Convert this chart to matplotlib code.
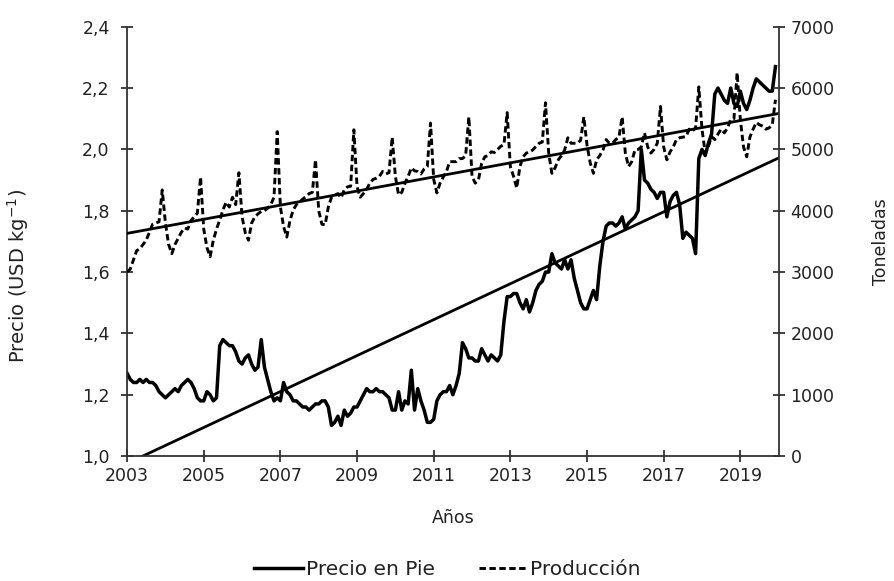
"""Precio en pie vs producción mensual, 2003-2019, con tendencias lineales."""
import numpy as np
import matplotlib
matplotlib.use("Agg")
import matplotlib.pyplot as plt
from matplotlib.ticker import FuncFormatter

# monthly values, Jan..Dec for each year
years = list(range(2003, 2020))

precio = [
    [1.27, 1.25, 1.24, 1.24, 1.25, 1.24, 1.25, 1.24, 1.24, 1.23, 1.21, 1.20],  # 2003
    [1.19, 1.20, 1.21, 1.22, 1.21, 1.23, 1.24, 1.25, 1.24, 1.22, 1.19, 1.18],  # 2004
    [1.18, 1.21, 1.20, 1.18, 1.19, 1.36, 1.38, 1.37, 1.36, 1.36, 1.34, 1.31],  # 2005
    [1.30, 1.32, 1.33, 1.30, 1.28, 1.29, 1.38, 1.29, 1.25, 1.21, 1.18, 1.19],  # 2006
    [1.18, 1.24, 1.21, 1.20, 1.18, 1.18, 1.17, 1.16, 1.16, 1.15, 1.16, 1.17],  # 2007
    [1.17, 1.18, 1.18, 1.16, 1.10, 1.11, 1.13, 1.10, 1.15, 1.13, 1.14, 1.16],  # 2008
    [1.16, 1.18, 1.20, 1.22, 1.21, 1.21, 1.22, 1.21, 1.21, 1.20, 1.19, 1.15],  # 2009
    [1.15, 1.21, 1.15, 1.18, 1.17, 1.28, 1.15, 1.22, 1.18, 1.15, 1.11, 1.11],  # 2010
    [1.12, 1.18, 1.20, 1.21, 1.21, 1.23, 1.20, 1.23, 1.27, 1.37, 1.35, 1.32],  # 2011
    [1.32, 1.31, 1.31, 1.35, 1.33, 1.31, 1.33, 1.32, 1.31, 1.33, 1.44, 1.52],  # 2012
    [1.52, 1.53, 1.53, 1.50, 1.48, 1.51, 1.47, 1.50, 1.54, 1.56, 1.57, 1.60],  # 2013
    [1.60, 1.66, 1.63, 1.62, 1.61, 1.64, 1.61, 1.64, 1.58, 1.54, 1.50, 1.48],  # 2014
    [1.48, 1.51, 1.54, 1.51, 1.62, 1.70, 1.75, 1.76, 1.76, 1.75, 1.76, 1.78],  # 2015
    [1.74, 1.76, 1.77, 1.78, 1.80, 2.00, 1.90, 1.89, 1.87, 1.86, 1.84, 1.86],  # 2016
    [1.86, 1.78, 1.83, 1.85, 1.86, 1.82, 1.71, 1.73, 1.72, 1.71, 1.66, 1.97],  # 2017
    [2.00, 1.98, 2.02, 2.05, 2.18, 2.20, 2.18, 2.16, 2.15, 2.20, 2.15, 2.14],  # 2018
    [2.19, 2.15, 2.13, 2.16, 2.20, 2.23, 2.22, 2.21, 2.20, 2.19, 2.19, 2.27],  # 2019
]

produccion = [
    [3000, 3050, 3200, 3350, 3380, 3450, 3520, 3650, 3780, 3800, 3820, 4340],  # 2003
    [3800, 3450, 3300, 3450, 3550, 3650, 3720, 3700, 3840, 3900, 3960, 4550],  # 2004
    [3700, 3400, 3250, 3520, 3700, 3850, 4010, 4140, 4060, 4220, 4100, 4620],  # 2005
    [3900, 3640, 3520, 3800, 3900, 3950, 3990, 4000, 4040, 4100, 4220, 5290],  # 2006
    [4060, 3740, 3570, 3840, 4010, 4100, 4140, 4190, 4230, 4280, 4300, 4830],  # 2007
    [4000, 3780, 3770, 4060, 4220, 4250, 4280, 4210, 4340, 4390, 4400, 5320],  # 2008
    [4390, 4220, 4280, 4350, 4450, 4510, 4530, 4560, 4640, 4600, 4620, 5200],  # 2009
    [4560, 4260, 4300, 4450, 4560, 4700, 4650, 4640, 4600, 4680, 4720, 5430],  # 2010
    [4510, 4290, 4450, 4550, 4640, 4800, 4800, 4800, 4850, 4850, 4900, 5530],  # 2011
    [4560, 4450, 4500, 4770, 4880, 4900, 4960, 4950, 5000, 5050, 5080, 5600],  # 2012
    [4720, 4560, 4370, 4720, 4880, 4940, 4960, 4990, 5050, 5100, 5120, 5760],  # 2013
    [4940, 4610, 4700, 4830, 4900, 4990, 5190, 5100, 5100, 5100, 5150, 5530],  # 2014
    [5070, 4780, 4610, 4830, 4900, 4990, 5160, 5100, 5100, 5160, 5200, 5530],  # 2015
    [4940, 4720, 4800, 4990, 5000, 5040, 5270, 5040, 4940, 5000, 5100, 5700],  # 2016
    [5040, 4830, 4960, 5040, 5160, 5190, 5200, 5210, 5330, 5300, 5350, 6020],  # 2017
    [5330, 4940, 5050, 5210, 5160, 5250, 5330, 5270, 5350, 5490, 5500, 6250],  # 2018
    [5490, 5040, 4880, 5200, 5330, 5440, 5400, 5380, 5330, 5350, 5400, 5810],  # 2019
]

x_ticks = [2003, 2005, 2007, 2009, 2011, 2013, 2015, 2017, 2019]

plt.rcParams["font.family"] = ["DejaVu Sans"]
FS = 12.5
INK = "#222222"


def comma(v, pos):
    return f"{v:.1f}".replace(".", ",")


def main():
    p = np.array(precio, dtype=float).ravel()
    q = np.array(produccion, dtype=float).ravel()
    t = np.array([y + m / 12.0 for y in years for m in range(12)])

    # linear trends (as in the spreadsheet)
    cp = np.polyfit(t, p, 1)
    cq = np.polyfit(t, q, 1)
    t_line = np.array([2003.0, 2020.0])

    fig = plt.figure(figsize=(8.95, 5.81), dpi=100)
    ax = fig.add_axes([0.142, 0.215, 0.728, 0.739])
    ax2 = ax.twinx()

    ax.plot(t, p, color="black", lw=2.5, solid_joinstyle="round", label="Precio en Pie")
    ax.plot(t_line, np.polyval(cp, t_line), color="black", lw=2.0)
    ax2.plot(t, q, color="black", lw=2.1, ls=(0, (2.2, 1.2)), label="Producción")
    ax2.plot(t_line, np.polyval(cq, t_line), color="black", lw=2.0)

    ax.set_xlim(2003, 2020)
    ax.set_ylim(1.0, 2.4)
    ax2.set_ylim(0, 7000)
    ax.set_xticks(x_ticks)
    ax.set_yticks(np.arange(1.0, 2.41, 0.2))
    ax.yaxis.set_major_formatter(FuncFormatter(comma))
    ax2.set_yticks(np.arange(0, 7001, 1000))

    for a in (ax, ax2):
        for s in a.spines.values():
            s.set_visible(False)
    ax.spines["left"].set_visible(True)
    ax.spines["bottom"].set_visible(True)
    ax2.spines["right"].set_visible(True)
    for s in (ax.spines["left"], ax.spines["bottom"], ax2.spines["right"]):
        s.set_linewidth(1.3)
        s.set_color("#333333")

    ax.tick_params(direction="inout", length=9, width=1.3, color="#333333",
                   labelsize=FS, labelcolor=INK, pad=3)
    ax.tick_params(axis="y", pad=8)
    ax2.tick_params(direction="inout", length=9, width=1.3, color="#333333",
                    labelsize=FS, labelcolor=INK, pad=4)

    ax.set_xlabel("Años", fontsize=FS, color=INK)
    ax.xaxis.set_label_coords(0.5, -0.123)
    ax.set_ylabel("Precio (USD kg$^{-1}$)", fontsize=14, color=INK)
    ax.yaxis.set_label_coords(-0.147, 0.42)
    ax2.set_ylabel("Toneladas", fontsize=FS, color=INK)
    ax2.yaxis.set_label_coords(1.144, 0.5)

    h1, l1 = ax.get_legend_handles_labels()
    h2, l2 = ax2.get_legend_handles_labels()
    leg = fig.legend(h1 + h2, l1 + l2, loc="lower center", bbox_to_anchor=(0.5, -0.028),
                     ncol=2, frameon=False, fontsize=14.5, handlelength=2.4,
                     handletextpad=0.15, columnspacing=2.2)
    for txt in leg.get_texts():
        txt.set_color(INK)

    fig.savefig("out.png", dpi=100)


if __name__ == "__main__":
    main()
